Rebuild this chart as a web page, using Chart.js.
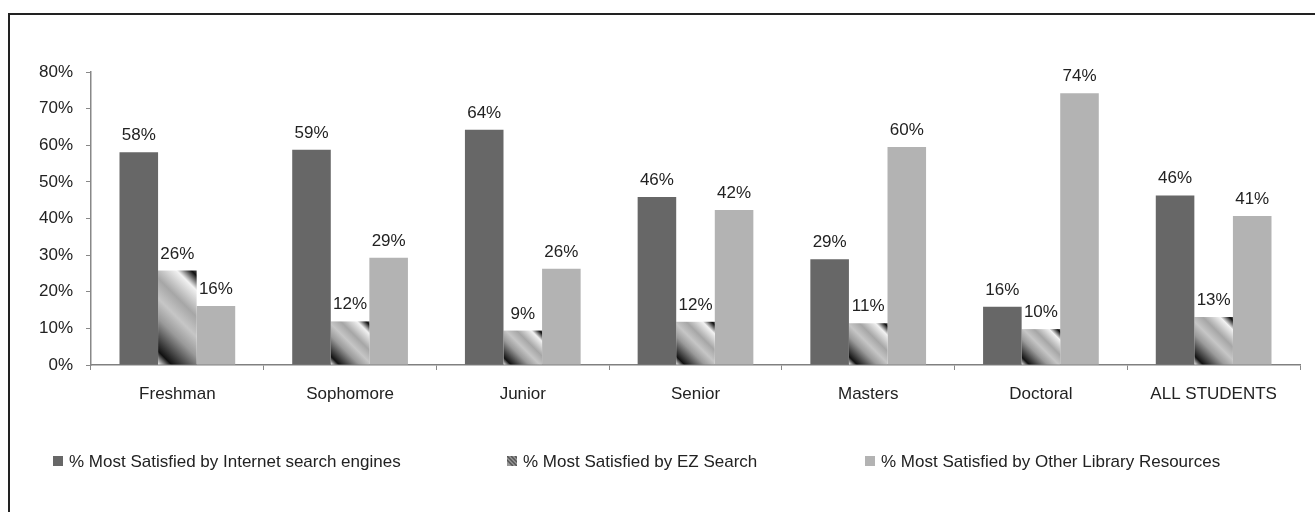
<!DOCTYPE html>
<html>
<head>
<meta charset="utf-8">
<script src="https://cdn.jsdelivr.net/npm/chart.js@4.4.0/dist/chart.umd.min.js"></script>
<style>
    html, body { margin: 0; padding: 0; background: #fff; }
    #wrap { position: relative; width: 1315px; height: 512px; }
</style>
</head>
<body>
<div id="wrap"><canvas id="chart"></canvas></div>
<script>

const categories = ['Freshman', 'Sophomore', 'Junior', 'Senior', 'Masters', 'Doctoral', 'ALL STUDENTS'];
const internetValues = [58.1, 58.8, 64.2, 45.9, 28.9, 15.9, 46.3];
const ezValues = [25.8, 11.9, 9.4, 11.8, 11.4, 9.8, 13.1];
const otherValues = [16.1, 29.3, 26.3, 42.3, 59.5, 74.2, 40.7];
const seriesNames = [
    '% Most Satisfied by Internet search engines',
    '% Most Satisfied by EZ Search',
    '% Most Satisfied by Other Library Resources'
];
const yTicks = [0, 10, 20, 30, 40, 50, 60, 70, 80];

const FONT = "'Liberation Sans', Arial, sans-serif";

// diagonal gradient like the excel fill, one per bar
function stripeGradient(ctx, left, top, w, h) {
    const cx = left + w / 2, cy = top + h / 2, s = (w + h) / 4;
    const g = ctx.createLinearGradient(cx - s, cy + s, cx + s, cy - s);
    g.addColorStop(0, '#f0f0f0');
    g.addColorStop(0.1, '#111');
    g.addColorStop(0.35, '#9a9a9a');
    g.addColorStop(0.5, '#c6c6c6');
    g.addColorStop(0.65, '#a6a6a6');
    g.addColorStop(0.85, '#f2f2f2');
    g.addColorStop(0.96, '#111');
    g.addColorStop(1, '#444');
    return g;
}

const customDraw = {
    id: 'customDraw',
    beforeDraw(chart) {
        const c = chart.ctx;
        c.save();
        c.strokeStyle = '#222';
        c.lineWidth = 2;
        c.beginPath();
        c.moveTo(9, 512);
        c.lineTo(9, 14);
        c.lineTo(1315, 14);
        c.stroke();
        c.restore();
    },
    afterDatasetDraw(chart, args) {
        if (args.index !== 1) return;
        const c = chart.ctx;
        c.save();
        args.meta.data.forEach(bar => {
            const left = bar.x - bar.width / 2;
            const top = bar.y;
            const h = bar.base - bar.y;
            c.fillStyle = stripeGradient(c, left, top, bar.width, h);
            c.fillRect(left, top, bar.width, h);
        });
        c.restore();
    },
    afterDatasetsDraw(chart) {
        const c = chart.ctx;
        c.save();
        c.font = '17px ' + FONT;
        c.fillStyle = '#222';
        c.textAlign = 'center';
        c.textBaseline = 'alphabetic';
        chart.data.datasets.forEach((ds, i) => {
            chart.getDatasetMeta(i).data.forEach((bar, j) => {
                c.fillText(Math.round(ds.data[j]) + '%', bar.x, bar.y - 12);
            });
        });
        c.restore();
    },
    afterDraw(chart) {
        const c = chart.ctx;
        const xs = [53, 507, 865];
        const y = 461;
        c.save();
        c.font = '17px ' + FONT;
        c.textBaseline = 'middle';
        seriesNames.forEach((name, i) => {
            if (i === 1) {
                c.fillStyle = '#999';
                c.fillRect(xs[i], y - 5, 10, 10);
                c.strokeStyle = '#555';
                c.lineWidth = 1.5;
                c.save();
                c.beginPath();
                c.rect(xs[i], y - 5, 10, 10);
                c.clip();
                c.beginPath();
                for (let k = -1; k <= 2; k++) {
                    const o = k * 4;
                    c.moveTo(xs[i] + o, y - 5);
                    c.lineTo(xs[i] + o + 10, y + 5);
                }
                c.stroke();
                c.restore();
            } else {
                c.fillStyle = chart.data.datasets[i].backgroundColor;
                c.fillRect(xs[i], y - 5, 10, 10);
            }
            c.fillStyle = '#222';
            c.fillText(name, xs[i] + 16, y + 1);
        });
        c.restore();
    }
};

new Chart(document.getElementById('chart'), {
    type: 'bar',
    data: {
        labels: categories,
        datasets: [{
            label: seriesNames[0],
            data: internetValues,
            backgroundColor: '#676767'
        }, {
            label: seriesNames[1],
            data: ezValues,
            backgroundColor: 'rgba(0,0,0,0)'
        }, {
            label: seriesNames[2],
            data: otherValues,
            backgroundColor: '#b3b3b3'
        }]
    },
    options: {
        responsive: true,
        maintainAspectRatio: false,
        animation: false,
        devicePixelRatio: 1,
        layout: {
            padding: { left: 0, top: 72, right: 15, bottom: 107 }
        },
        plugins: {
            legend: { display: false },
            tooltip: { enabled: false }
        },
        datasets: {
            bar: {
                barPercentage: 1,
                categoryPercentage: 0.67
            }
        },
        scales: {
            x: {
                afterFit: scale => { scale.height = 40; },
                grid: {
                    offset: true,
                    drawOnChartArea: false,
                    tickLength: 5,
                    color: '#888'
                },
                border: { color: '#808080', width: 1.5 },
                ticks: {
                    color: '#222',
                    font: { size: 17, family: FONT },
                    padding: 14,
                    maxRotation: 0
                }
            },
            y: {
                min: 0,
                max: 80,
                afterFit: scale => { scale.width = 91; },
                afterBuildTicks: scale => {
                    scale.ticks = yTicks.map(v => ({ value: v }));
                },
                grid: {
                    drawOnChartArea: false,
                    tickLength: 5,
                    color: '#888'
                },
                border: { color: '#888', width: 1.5 },
                ticks: {
                    color: '#222',
                    font: { size: 17, family: FONT },
                    padding: 13,
                    callback: v => v + '%'
                }
            }
        }
    },
    plugins: [customDraw]
});

</script>
</body>
</html>
